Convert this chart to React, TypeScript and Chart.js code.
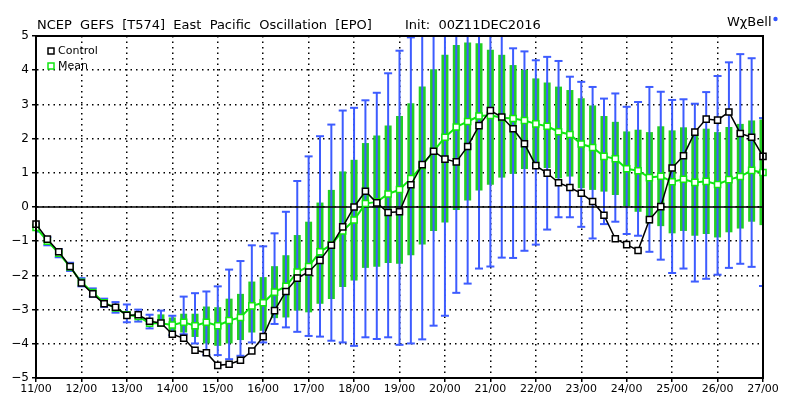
import React, { useEffect, useRef } from "react";
import { Chart, registerables } from "chart.js";

Chart.register(...registerables);

// ---- data ----
const days = [11, 12, 13, 14, 15, 16, 17, 18, 19, 20, 21, 22, 23, 24, 25, 26, 27];
const hours = ["00", "06", "12", "18"];
const yTickValues = [-5, -4, -3, -2, -1, 0, 1, 2, 3, 4, 5];

const timeLabels: string[] = [];
days.forEach((d, di) => {
  hours.forEach((h) => {
    if (di < days.length - 1 || h === "00") timeLabels.push(`${d}/${h}`);
  });
});

const control = [
  -0.5, -0.94, -1.31, -1.74, -2.22, -2.54, -2.83, -2.93, -3.17, -3.15,
  -3.34, -3.39, -3.72, -3.84, -4.19, -4.26, -4.63, -4.6, -4.48, -4.21,
  -3.79, -3.03, -2.47, -2.08, -1.9, -1.56, -1.12, -0.58, 0.0, 0.46,
  0.12, -0.16, -0.14, 0.65, 1.24, 1.63, 1.4, 1.32, 1.77, 2.38,
  2.82, 2.63, 2.29, 1.85, 1.21, 0.99, 0.71, 0.57, 0.4, 0.16,
  -0.24, -0.93, -1.1, -1.27, -0.37, 0.01, 1.14, 1.5, 2.19, 2.57,
  2.54, 2.78, 2.15, 2.04, 1.48,
];

const mean = [
  -0.6, -1.0, -1.35, -1.75, -2.2, -2.5, -2.8, -2.95, -3.15, -3.2,
  -3.4, -3.4, -3.45, -3.37, -3.47, -3.37, -3.47, -3.32, -3.23, -2.89,
  -2.8, -2.49, -2.32, -1.9, -1.74, -1.31, -1.1, -0.7, -0.38, 0.1,
  0.15, 0.38, 0.51, 0.83, 1.21, 1.63, 2.04, 2.34, 2.5, 2.66,
  2.68, 2.61, 2.59, 2.53, 2.43, 2.36, 2.2, 2.12, 1.84, 1.74,
  1.48, 1.41, 1.12, 1.06, 0.86, 0.9, 0.74, 0.81, 0.72, 0.75,
  0.66, 0.8, 0.89, 1.07, 1.01,
];

const boxHigh = [
  -0.53, -0.93, -1.28, -1.68, -2.13, -2.43, -2.72, -2.85, -3.05, -3.1,
  -3.25, -3.14, -3.23, -3.12, -3.12, -2.91, -2.93, -2.68, -2.54, -2.18,
  -2.05, -1.73, -1.41, -0.82, -0.43, 0.13, 0.5, 1.04, 1.38, 1.87,
  2.09, 2.38, 2.66, 3.03, 3.52, 4.03, 4.45, 4.74, 4.81, 4.79,
  4.6, 4.45, 4.15, 4.01, 3.76, 3.64, 3.52, 3.42, 3.18, 2.97,
  2.66, 2.49, 2.21, 2.26, 2.19, 2.36, 2.24, 2.33, 2.17, 2.29,
  2.19, 2.34, 2.43, 2.53, 2.56,
];

const boxLow = [
  -0.67, -1.07, -1.42, -1.82, -2.27, -2.57, -2.88, -3.05, -3.25, -3.3,
  -3.5, -3.43, -3.67, -3.67, -3.8, -3.99, -4.06, -3.99, -3.89, -3.67,
  -3.62, -3.25, -3.23, -3.03, -3.08, -2.83, -2.69, -2.34, -2.15, -1.78,
  -1.75, -1.64, -1.66, -1.41, -1.1, -0.7, -0.45, -0.09, 0.19, 0.48,
  0.65, 0.86, 0.97, 1.11, 1.19, 1.14, 0.84, 0.89, 0.55, 0.5,
  0.45, 0.35, 0.0, -0.14, -0.48, -0.56, -0.77, -0.7, -0.84, -0.79,
  -0.89, -0.74, -0.63, -0.43, -0.53,
];

const whiskerHigh = [
  -0.48, -0.88, -1.23, -1.63, -2.08, -2.38, -2.68, -2.78, -2.85, -3.0,
  -3.15, -3.03, -3.18, -2.62, -2.52, -2.47, -2.32, -1.83, -1.58, -1.12,
  -1.15, -0.77, -0.14, 0.76, 1.48, 2.07, 2.41, 2.82, 2.9, 3.12,
  3.34, 3.91, 4.57, 4.96, 5.3, 5.5, 5.6, 5.8, 5.9, 5.8,
  5.6, 5.3, 4.64, 4.55, 4.29, 4.39, 4.27, 3.81, 3.66, 3.51,
  3.17, 3.32, 2.93, 3.07, 3.51, 3.37, 3.13, 3.15, 3.02, 3.36,
  3.83, 4.23, 4.47, 4.35, 2.6,
];

const whiskerLow = [
  -0.72, -1.12, -1.47, -1.87, -2.32, -2.62, -2.92, -3.09, -3.37, -3.35,
  -3.55, -3.47, -3.75, -3.72, -3.99, -4.33, -4.33, -4.45, -4.35, -3.96,
  -3.96, -3.42, -3.52, -3.65, -3.77, -3.79, -3.91, -3.96, -4.06, -3.81,
  -3.86, -3.81, -4.03, -3.99, -3.87, -3.47, -3.18, -2.51, -2.24, -1.8,
  -1.74, -1.48, -1.49, -1.28, -1.1, -0.66, -0.3, -0.3, -0.58, -0.92,
  -0.5, -0.43, -0.79, -0.84, -1.31, -1.54, -1.93, -1.8, -2.18, -2.1,
  -1.98, -1.78, -1.66, -1.75, -2.31,
];

const titleText = "NCEP  GEFS  [T574]  East  Pacific  Oscillation  [EPO]";
const initText = "Init:  00Z11DEC2016";
const brandText = "WχBell";
const legendItems = ["Control", "Mean"];

// ---- styles ----
const BLUE = "#3d5cff";
const GREEN_BOX = "#22d022";
const GREEN_LINE = "#11e611";
const FONT = '"DejaVu Sans", Verdana, sans-serif';

const decorPlugin = {
  id: "decor",
  beforeDatasetDraw(chart: any, args: any) {
    // solid zero line, drawn above boxes but below series lines
    if (args.index !== 1) return;
    const { ctx, chartArea: a, scales } = chart;
    const y0 = scales.y.getPixelForValue(0);
    ctx.save();
    ctx.strokeStyle = "#000";
    ctx.lineWidth = 1.5;
    ctx.beginPath();
    ctx.moveTo(a.left, y0);
    ctx.lineTo(a.right, y0);
    ctx.stroke();
    ctx.restore();
  },
  afterDraw(chart: any) {
    const { ctx, chartArea: a } = chart;
    ctx.save();
    // frame
    ctx.strokeStyle = "#000";
    ctx.lineWidth = 2;
    ctx.strokeRect(a.left, a.top, a.right - a.left, a.bottom - a.top);

    // titles
    ctx.fillStyle = "#000";
    ctx.textBaseline = "alphabetic";
    ctx.textAlign = "left";
    ctx.font = `13px ${FONT}`;
    ctx.fillText(titleText, 37, 29, 344);
    ctx.fillText(initText, 405, 29, 139);
    ctx.font = `13px ${FONT}`;
    ctx.fillText(brandText, 727, 26);
    const bw = ctx.measureText(brandText).width;
    ctx.fillStyle = "#3355ff";
    ctx.beginPath();
    ctx.arc(727 + bw + 4, 19, 2.2, 0, Math.PI * 2);
    ctx.fill();

    // legend
    ctx.font = `11px ${FONT}`;
    ctx.textBaseline = "middle";
    const colors = ["#000", GREEN_LINE];
    legendItems.forEach((t, i) => {
      const cy = 51 + i * 15;
      ctx.fillStyle = "#fff";
      ctx.fillRect(48, cy - 3, 6, 6);
      ctx.strokeStyle = colors[i];
      ctx.lineWidth = 1.5;
      ctx.strokeRect(48, cy - 3, 6, 6);
      ctx.fillStyle = "#000";
      ctx.fillText(t, 58, cy + 0.5);
    });
    ctx.restore();
  },
};

export default function App() {
  const ref = useRef<HTMLCanvasElement | null>(null);

  useEffect(() => {
    document.body.style.margin = "0";
    const canvas = ref.current;
    if (!canvas) return;

    const chart = new Chart(canvas, {
      type: "bar",
      data: {
        labels: timeLabels,
        datasets: [
          {
            type: "line",
            label: "Control",
            data: control,
            borderColor: "#000",
            borderWidth: 1.5,
            pointStyle: "rect",
            pointRadius: 4.3,
            pointBackgroundColor: "#fff",
            pointBorderColor: "#000",
            pointBorderWidth: 1.5,
            tension: 0,
            order: 0,
            clip: 10,
          } as any,
          {
            type: "line",
            label: "Mean",
            data: mean,
            borderColor: GREEN_LINE,
            borderWidth: 2,
            pointStyle: "rect",
            pointRadius: 4.3,
            pointBackgroundColor: "#fff",
            pointBorderColor: GREEN_LINE,
            pointBorderWidth: 1.5,
            tension: 0,
            order: 1,
            clip: 10,
          } as any,
          {
            type: "line",
            label: "Max",
            data: whiskerHigh,
            showLine: false,
            pointStyle: "line",
            pointRadius: 4,
            pointBorderColor: BLUE,
            pointBorderWidth: 2,
            order: 2,
            clip: 0,
          } as any,
          {
            type: "line",
            label: "Min",
            data: whiskerLow,
            showLine: false,
            pointStyle: "line",
            pointRadius: 4,
            pointBorderColor: BLUE,
            pointBorderWidth: 2,
            order: 2,
            clip: 0,
          } as any,
          {
            type: "bar",
            label: "Range",
            data: whiskerLow.map((l, i) => [l, whiskerHigh[i]]),
            backgroundColor: BLUE,
            barThickness: 2,
            inflateAmount: 0,
            grouped: false,
            order: 3,
            clip: 0,
          } as any,
          {
            type: "bar",
            label: "Spread",
            data: boxLow.map((l, i) => [l, boxHigh[i]]),
            backgroundColor: GREEN_BOX,
            barThickness: 7,
            inflateAmount: 0,
            grouped: false,
            order: 4,
            clip: 0,
          } as any,
        ],
      },
      options: {
        responsive: false,
        devicePixelRatio: 1,
        animation: false,
        events: [],
        layout: { padding: { top: 36, right: 37, left: 0, bottom: 0 } },
        plugins: {
          legend: { display: false },
          tooltip: { enabled: false },
          title: { display: false },
        },
        scales: {
          x: {
            type: "category",
            offset: false,
            grid: {
              offset: false,
              color: (c: any) => (c.index % 4 === 0 ? "#000" : "rgba(0,0,0,0)"),
              tickColor: (c: any) => (c.index % 4 === 0 ? "#000" : "rgba(0,0,0,0)"),
              lineWidth: 1.5,
              tickLength: 4,
              tickWidth: 1.5,
            },
            border: { display: true, color: "#000", width: 2, dash: [1.5, 4] },
            ticks: {
              autoSkip: false,
              maxRotation: 0,
              minRotation: 0,
              padding: 1,
              color: "#000",
              font: { family: FONT, size: 11 },
              callback: (_v: any, i: number) => (i % 4 === 0 ? timeLabels[i] : ""),
            },
            afterFit: (s: any) => {
              s.height = 22;
            },
          },
          y: {
            min: yTickValues[0],
            max: yTickValues[yTickValues.length - 1],
            afterBuildTicks: (s: any) => {
              s.ticks = yTickValues.map((v) => ({ value: v }));
            },
            grid: {
              color: "#000",
              lineWidth: 1.5,
              tickLength: 4,
              tickWidth: 1.5,
              tickColor: "#000",
            },
            border: { display: true, color: "#000", width: 2, dash: [1.5, 4] },
            ticks: {
              padding: 3,
              color: "#000",
              font: { family: FONT, size: 12 },
              callback: (v: any) => (Number(v) < 0 ? "\u2212" + Math.abs(Number(v)) : String(v)),
            },
            afterFit: (s: any) => {
              s.width = 36;
            },
          },
        },
      } as any,
      plugins: [decorPlugin],
    });

    return () => chart.destroy();
  }, []);

  return (
    <div style={{ width: 800, height: 400, background: "#fff" }}>
      <canvas ref={ref} width={800} height={400} style={{ display: "block" }} />
    </div>
  );
}
